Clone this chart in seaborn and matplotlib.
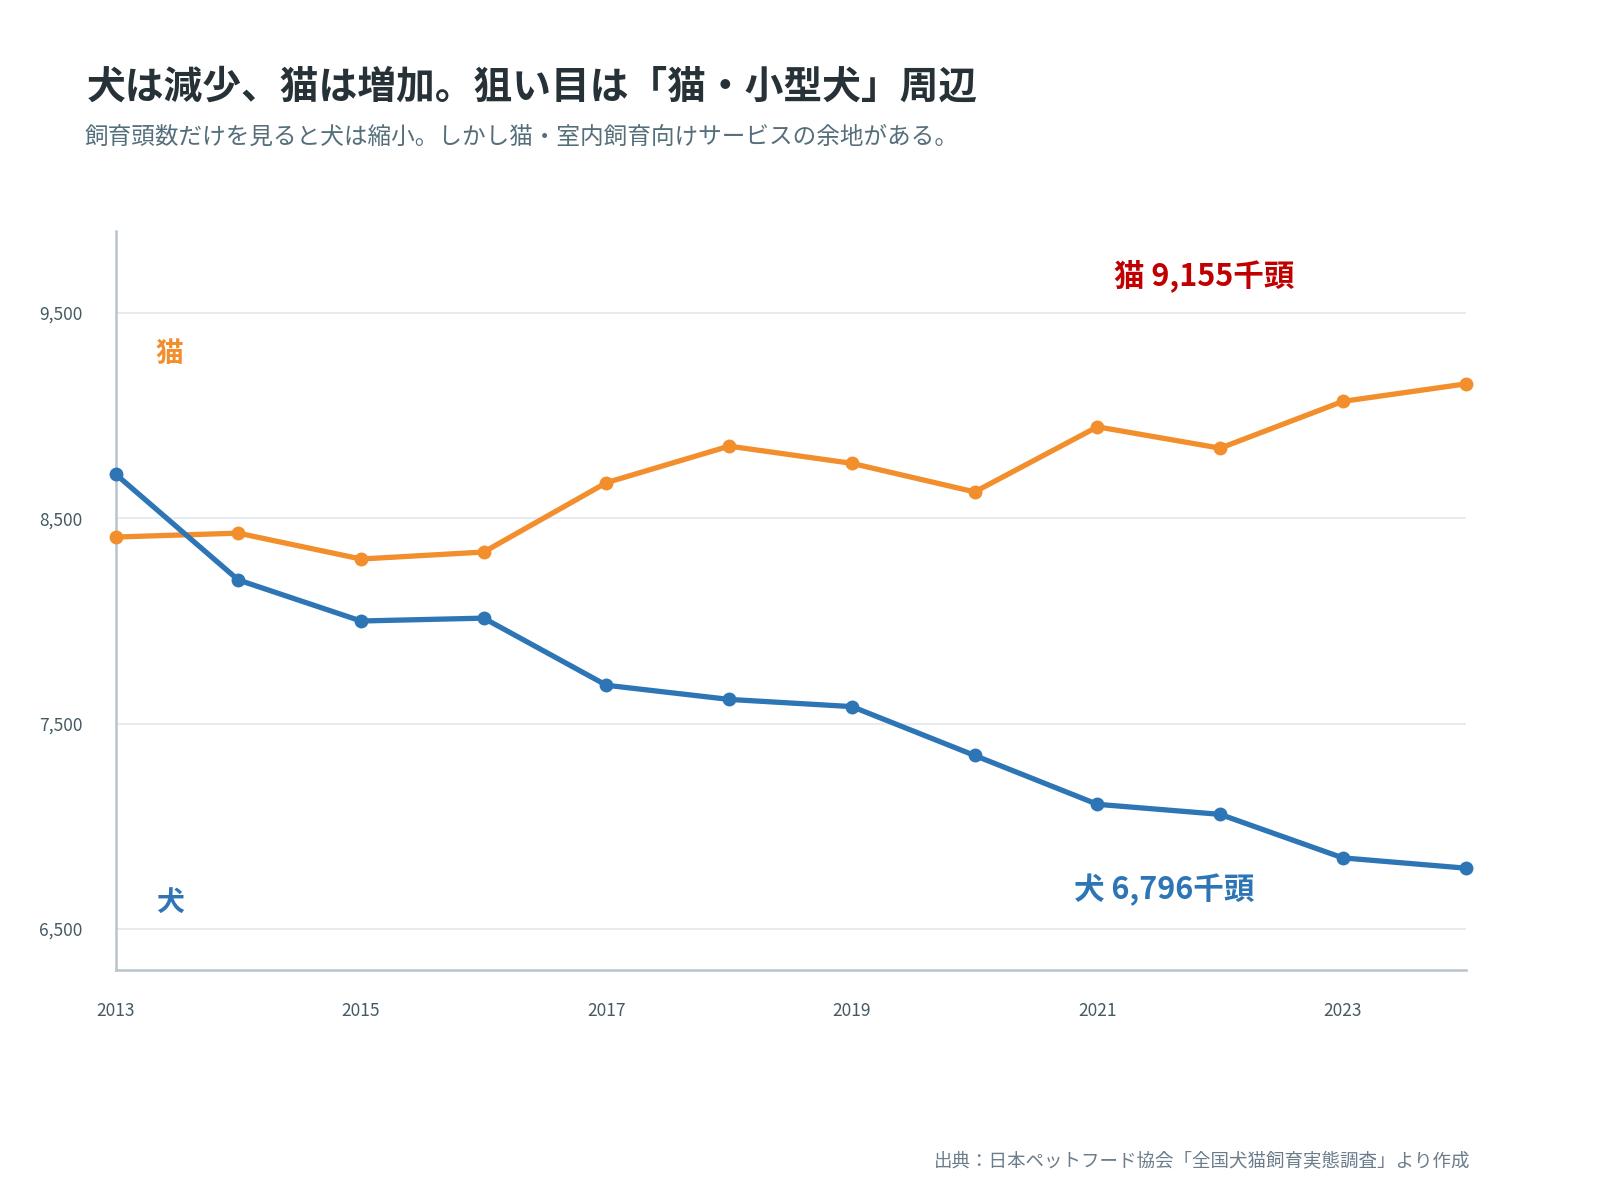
import pandas as pd
import matplotlib.pyplot as plt
import seaborn as sns

# データ（千頭）
years = list(range(2013, 2025))
cat_counts = [8409, 8428, 8302, 8336, 8674, 8852, 8768, 8629, 8946, 8842, 9070, 9155]
dog_counts = [8716, 8200, 8000, 8014, 7687, 7618, 7583, 7345, 7107, 7058, 6846, 6796]
y_ticks = [6500, 7500, 8500, 9500]
x_ticks = [2013, 2015, 2017, 2019, 2021, 2023]

title = "犬は減少、猫は増加。狙い目は「猫・小型犬」周辺"
subtitle = "飼育頭数だけを見ると犬は縮小。しかし猫・室内飼育向けサービスの余地がある。"
source = "出典：日本ペットフード協会「全国犬猫飼育実態調査」より作成"

df = pd.DataFrame({
    "year": years * 2,
    "count": cat_counts + dog_counts,
    "animal": ["猫"] * len(years) + ["犬"] * len(years),
})

sns.set_theme(style="white")
plt.rcParams["font.family"] = ["Noto Sans CJK JP", "DejaVu Sans"]

ORANGE = "#f28e2b"
BLUE = "#2e75b6"
RED = "#c00000"

fig = plt.figure(figsize=(16, 12), dpi=100)
ax = fig.add_axes([0.0722, 0.1917, 0.8438, 0.6158])

sns.lineplot(data=df, x="year", y="count", hue="animal",
             palette={"猫": ORANGE, "犬": BLUE}, marker="o",
             linewidth=3.8, markersize=10, markeredgewidth=0,
             legend=False, ax=ax, zorder=3, clip_on=False)

ax.set_xlim(2013, 2024)
ax.set_ylim(6300, 9900)
ax.set_yticks(y_ticks)
ax.set_yticklabels([f"{v:,}" for v in y_ticks])
ax.set_xticks(x_ticks)
ax.set_xticklabels([str(v) for v in x_ticks])
ax.tick_params(axis="both", length=0, labelsize=12.5, labelcolor="#455a64")
ax.tick_params(axis="y", pad=24)
ax.tick_params(axis="x", pad=23)
ax.set_xlabel("")
ax.set_ylabel("")

ax.grid(axis="y", color="#e1e7ee", linewidth=1.2, zorder=0)
for side in ["top", "right"]:
    ax.spines[side].set_visible(False)
for side in ["left", "bottom"]:
    ax.spines[side].set_color("#b8c4cc")
    ax.spines[side].set_linewidth(1.8)

# 系列ラベル
ax.text(2013.44, 9300, "猫", color=ORANGE, fontsize=20, fontweight="bold",
        ha="center", va="center")
ax.text(2013.44, 6625, "犬", color=BLUE, fontsize=20, fontweight="bold",
        ha="center", va="center")
ax.text(2021.87, 9680, f"猫 {cat_counts[-1]:,}千頭", color=RED, fontsize=22,
        fontweight="bold", ha="center", va="center")
ax.text(2021.54, 6690, f"犬 {dog_counts[-1]:,}千頭", color=BLUE, fontsize=22,
        fontweight="bold", ha="center", va="center")

fig.text(0.054, 1 - 87 / 1200, title, fontsize=27.9, fontweight="bold",
         color="#263238", ha="left", va="center")
fig.text(0.053, 1 - 137 / 1200, subtitle, fontsize=17.0, color="#546e7a",
         ha="left", va="center")
fig.text(1470 / 1600, 1 - 1162 / 1200, source, fontsize=13.3, color="#6b7c8a",
         ha="right", va="center")

fig.savefig("out.png", dpi=100, facecolor="white")
